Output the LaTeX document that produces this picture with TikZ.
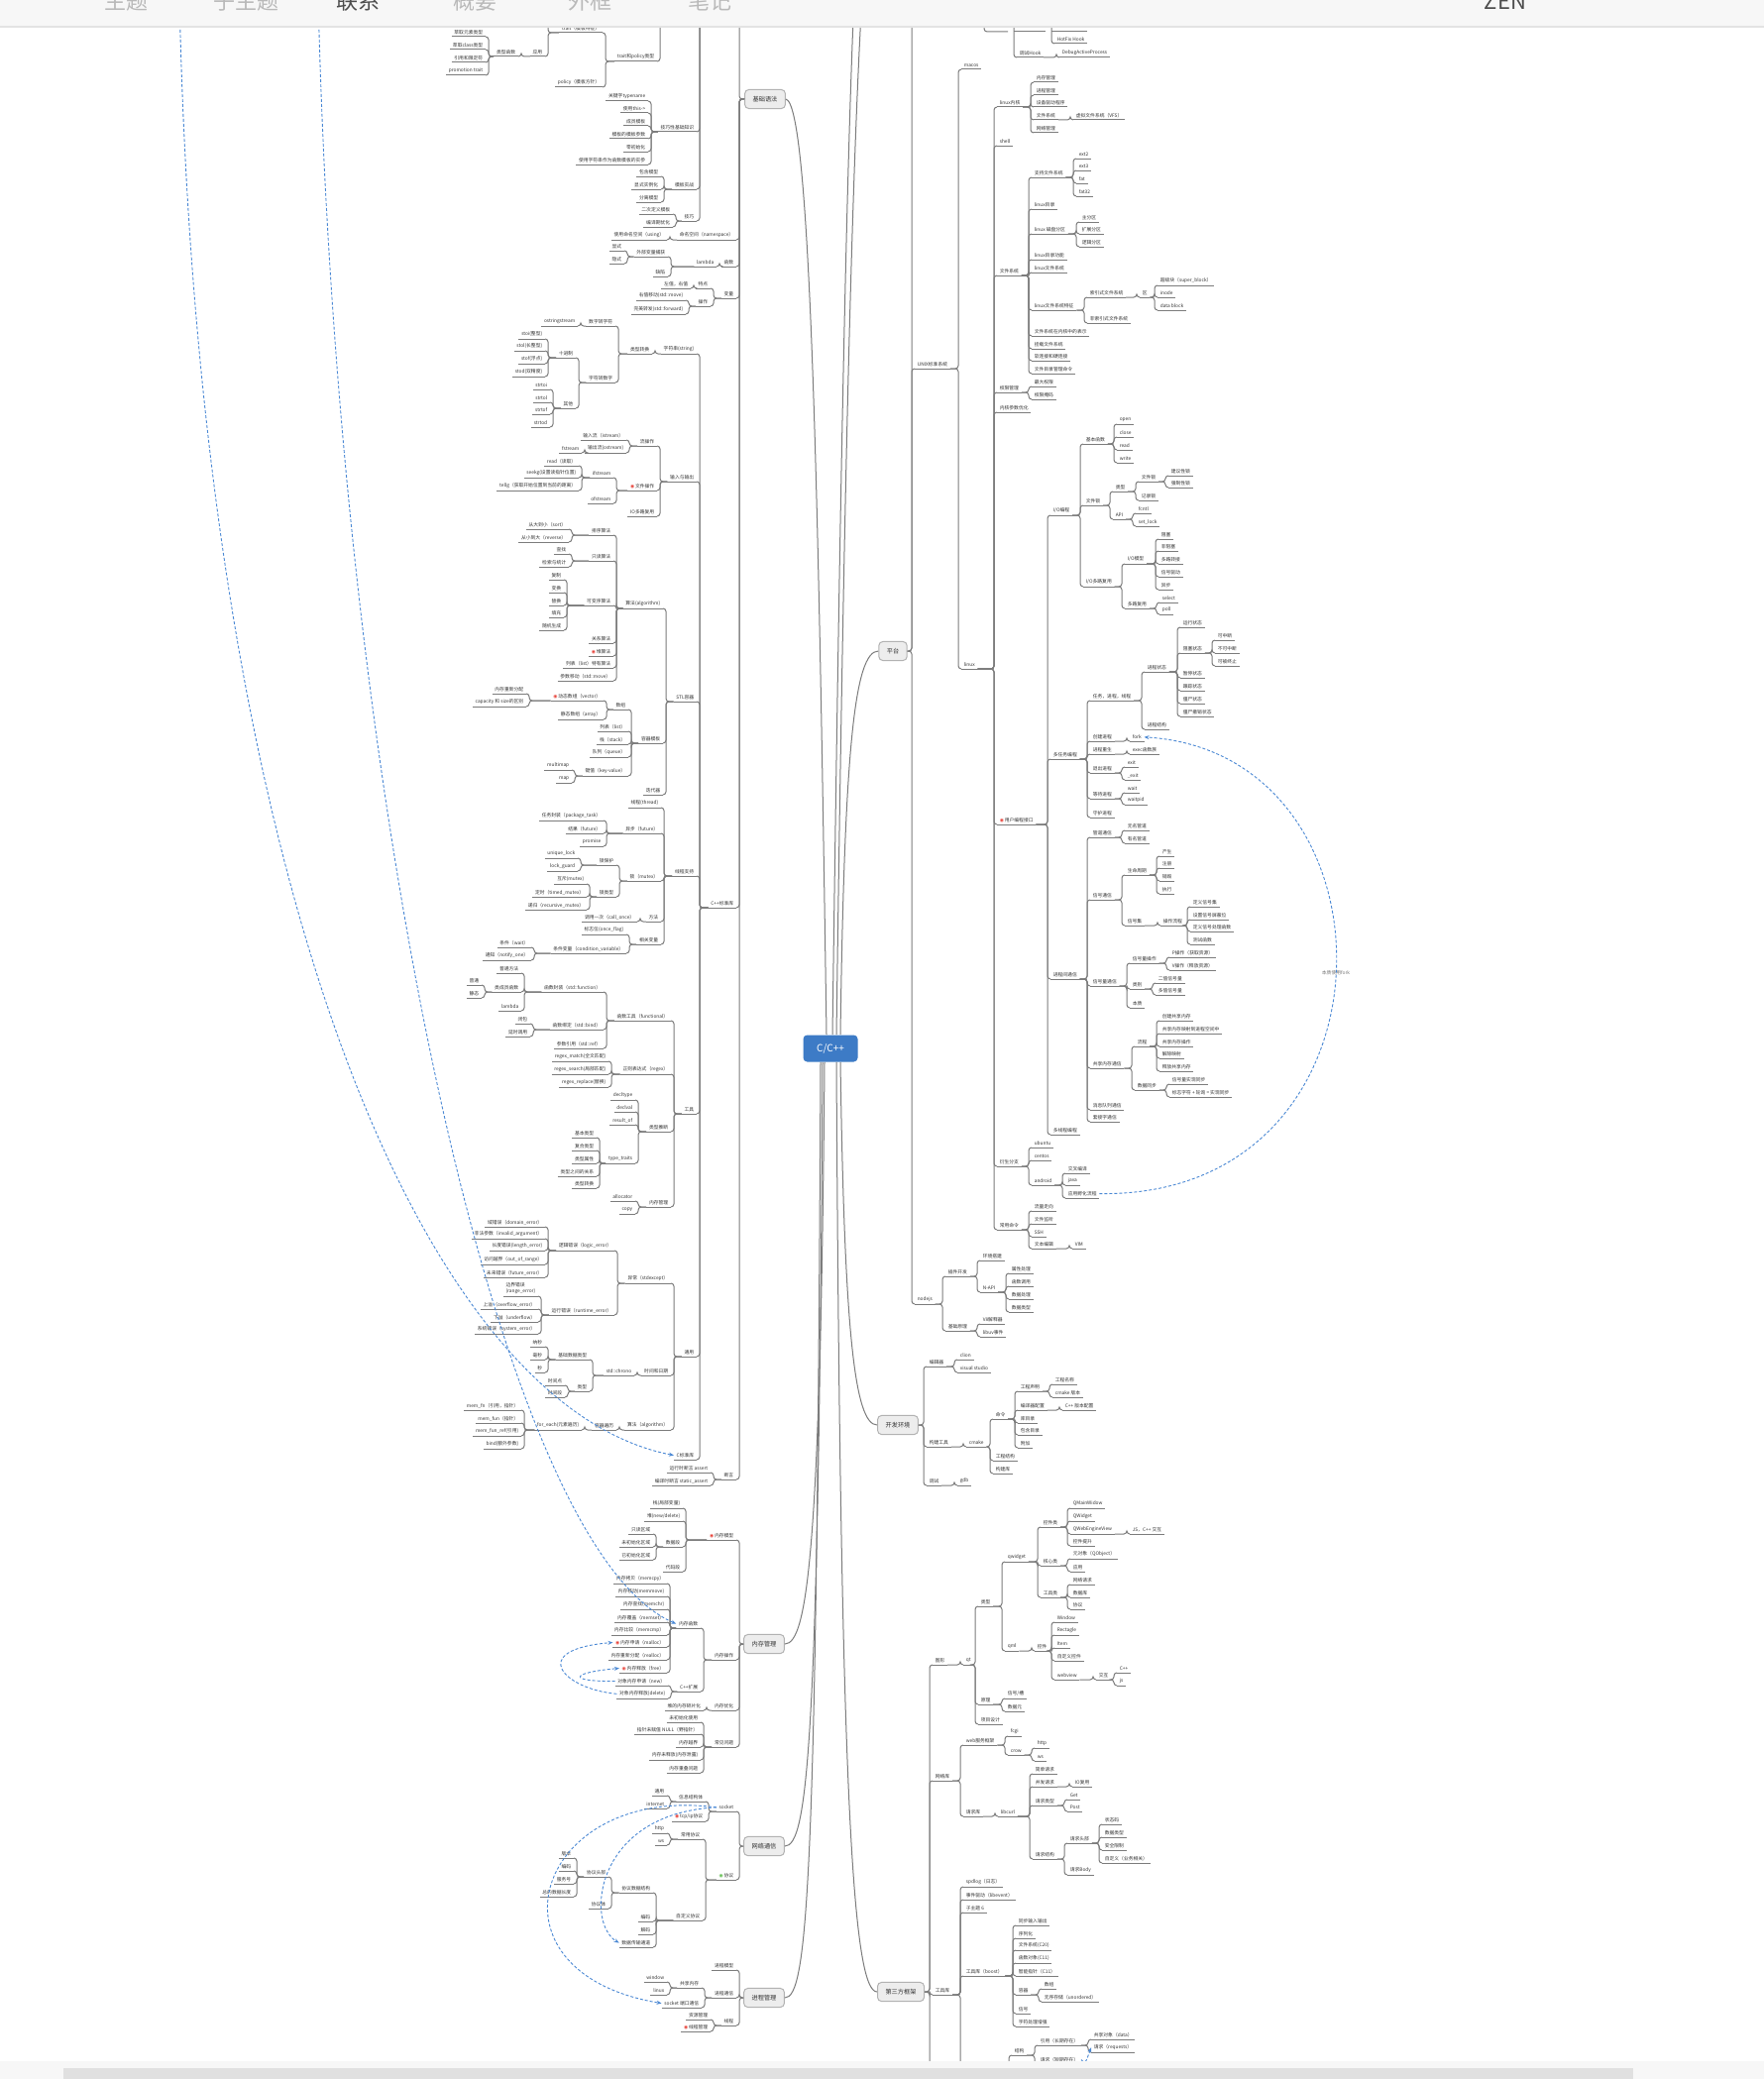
\documentclass[tikz,border=0pt]{standalone}
\usepackage{fontspec}
\setmainfont{Noto Sans CJK SC}
\newfontfamily\symf{DejaVu Sans}
\usepackage{xcolor}
\usetikzlibrary{arrows.meta}
\definecolor{ink}{HTML}{333333}
\definecolor{wire}{HTML}{7C7C7C}
\definecolor{boxbg}{HTML}{EDEDED}
\definecolor{boxbd}{HTML}{B2B2B2}
\definecolor{centre}{HTML}{3D7BC6}
\definecolor{relclr}{HTML}{4A88D4}
\definecolor{prioclr}{HTML}{E8453C}
\definecolor{okclr}{HTML}{5DBB4A}
\definecolor{barbg}{HTML}{F7F7F7}
\definecolor{barln}{HTML}{E3E3E3}
\definecolor{tabtxt}{HTML}{B9B9B9}
\definecolor{tabon}{HTML}{4D4D4D}
\definecolor{scroll}{HTML}{E0E0E0}
\definecolor{soft}{HTML}{777777}
\newcommand{\leaf}{\fontsize{2.4}{2.9}\selectfont}
\newcommand{\brfont}{\fontsize{3.1}{3.6}\selectfont}
\newcommand{\prio}{\textcolor{prioclr}{\symf ◉}\,}
\newcommand{\okk}{\textcolor{okclr}{\symf ◉}\,}
\tikzset{
  link/.style={draw=wire, line width=0.5pt, rounded corners=1.5pt},
  topic/.style={font=\leaf, text=ink, align=left, inner xsep=1.2pt, inner ysep=0.9pt,
    append after command={(\tikzlastnode.south west) edge[link] (\tikzlastnode.south east)}},
  branch/.style={draw=boxbd, fill=boxbg, rounded corners=2pt, font=\brfont, text=ink,
    inner xsep=4pt, minimum height=9.5pt, line width=0.5pt},
  hub/.style={fill=centre, text=white, rounded corners=2pt, font=\fontsize{5}{6}\selectfont,
    minimum width=27.5pt, minimum height=13.5pt},
  xref/.style={draw=relclr, line width=0.45pt, dash pattern=on 1.5pt off 1pt,
    -{Stealth[length=2.5pt, width=2pt]}},
  tab/.style={font=\fontsize{11}{11}\selectfont, text=tabtxt, anchor=base},
}
% children to the left / right of a parent, bar at #2
\newcommand{\lkids}[3]{\foreach \nm/\yy/\lbl in {#3}{%
  \node[topic, anchor=south east] (\nm) at (#2-3,\yy) {\lbl};
  \draw[link] (#1) -| (#2,\yy) -- (\nm.south east);}}
\newcommand{\rkids}[3]{\foreach \nm/\yy/\lbl in {#3}{%
  \node[topic, anchor=south west] (\nm) at (#2+3,\yy) {\lbl};
  \draw[link] (#1) -| (#2,\yy) -- (\nm.south west);}}
% same, parent out of view
\newcommand{\lkidsup}[3]{\foreach \nm/\yy/\lbl in {#3}{%
  \node[topic, anchor=south east] (\nm) at (#2-3,\yy) {\lbl};
  \draw[link] (#1) |- (\nm.south east);}}
\newcommand{\rkidsup}[3]{\foreach \nm/\yy/\lbl in {#3}{%
  \node[topic, anchor=south west] (\nm) at (#2+3,\yy) {\lbl};
  \draw[link] (#1) |- (\nm.south west);}}

\begin{document}
\begin{tikzpicture}[x=0.5pt, y=-0.5pt]
  \useasboundingbox (0,0) rectangle (1780,2098);
  \fill[white] (0,0) rectangle (1780,2098);

  % centre and main branches
  \node[hub] (cc) at (838,1058) {C/C++};
  \node[branch] (jc) at (772,100) {基础语法};
  \node[branch] (mem) at (771,1659) {内存管理};
  \node[branch] (net) at (771,1863) {网络通信};
  \node[branch] (proc) at (771,2016) {进程管理};
  \node[branch] (plat) at (901,657) {平台};
  \node[branch] (dev) at (906,1438) {开发环境};
  \node[branch] (third) at (909,2010) {第三方框架};
  \coordinate (upA) at (862,-5);
  \coordinate (upB) at (870,-5);

  \draw[link] ([xshift=-2pt]cc.north) .. controls (826,500) and (818,105) .. (jc.east);
  \draw[link] ([xshift=1pt]cc.north) .. controls (846,600) and (853,200) .. (upA);
  \draw[link] ([xshift=3pt]cc.north) .. controls (850,600) and (858,200) .. (upB);
  \draw[link] ([xshift=5pt]cc.north) .. controls (852,760) and (862,657) .. (plat.west);
  \draw[link] ([xshift=5pt]cc.south) .. controls (852,1340) and (862,1438) .. (dev.west);
  \draw[link] ([xshift=3pt]cc.south) .. controls (848,1800) and (860,2010) .. (third.west);
  \draw[link] ([xshift=-3pt]cc.south) .. controls (828,1560) and (815,1659) .. (mem.east);
  \draw[link] ([xshift=-4pt]cc.south) .. controls (826,1760) and (815,1863) .. (net.east);
  \draw[link] ([xshift=-5pt]cc.south) .. controls (824,1900) and (815,2016) .. (proc.east);

  % ---- 基础语法 ----
  \draw[link] (jc.west) -| (746,-5);
  \lkids{jc.west}{746}{ns/242/命名空间（namespace）,fn/269/函数,var/301/变量,
    cstd/916/C++标准库,asrt/1493/断言}
  \coordinate (tplA) at (706,-5);
  \coordinate (tplB) at (666,-5);
  \lkidsup{tplA}{706}{tbk/133/技巧性基础知识,tpr/191/模板实战,tsk/223/技巧}
  \lkidsup{tplB}{666}{tp/62/trait和policy类型}
  \lkids{tp.south west}{611}{trt/33/trait（模板特征）,pol/88/policy（模板方针）}
  \draw[link] (trt.south west) -| (553,-5);
  \lkids{trt.south west}{553}{app/57/应用}
  \lkids{app.south west}{526}{tf/57/类型函数}
  \lkids{tf.south west}{493}{ex1/37/萃取元素类型,ex2/50/萃取class类型,rq/63/引用和限定符,
    pt/76/promotion trait}
  \lkids{tbk.south west}{657}{tb1/102/关键字typename,tb2/114/使用this->,tb3/127/成员模板,
    tb4/140/模板的模板参数,tb5/153/零初始化,tb6/166/使用字符串作为函数模板的实参}
  \lkids{tpr.south west}{670}{tr1/178/包含模型,tr2/191/显式实例化,tr3/204/分离模型}
  \lkids{tsk.south west}{682}{ts1/216/二次定义模板,ts2/229/编译期优化}
  \lkids{ns.south west}{676}{nsu/242/使用命名空间（using）}
  \lkids{fn.south west}{726}{lam/269/lambda}
  \lkids{lam.south west}{677}{cap/259/外部变量捕获,dfc/279/缺陷}
  \lkids{cap.south west}{633}{ce/253/显式,ci/266/隐式}
  \lkids{var.south west}{720}{vch/291/特点,vop/309/操作}
  \lkids{vch.south west}{700}{lr/291/左值，右值}
  \lkids{vop.south west}{695}{mv/303/右值移动(std::move),fw/317/完美转发(std::forward)}

  \lkids{cstd.south west}{706}{str/357/字符串(string),io/486/输入与输出,stl/708/STL容器,
    thr/884/线程支持,tool/1124/工具,gen/1369/通用,clib/1473/C标准库}
  \lkids{str.south west}{661}{cvt/357/类型转换}
  \lkids{cvt.south west}{624}{n2s/329/数字转字符,s2n/386/字符转数字}
  \lkids{n2s.south west}{586}{oss/329/ostringstream}
  \lkids{s2n.south west}{584}{dec/361/十进制,oth/412/其他}
  \lkids{dec.south west}{553}{st1/342/stoi(整型),st2/354/stol(长整型),st3/367/stof(浮点),
    st4/380/stod(双精度)}
  \lkids{oth.south west}{558}{sr1/393/strtoi,sr2/406/strtol,sr3/418/strtof,sr4/431/strtod}
  \lkids{io.south west}{666}{iost/450/流操作,iof/495/\prio 文件操作,iomx/521/IO多路复用}
  \lkids{iost.south west}{635}{ist/444/输入流（istream）,ost/457/输出流(ostream)}
  \lkids{ost.south west}{590}{fst/457/fstream}
  \lkids{iof.south west}{622}{ifs/482/ifstream,ofs/508/ofstream}
  \lkids{ifs.south west}{587}{rd/470/read（读取）,skg/482/seekg(设置读指针位置),
    tlg/495/tellg（获取开始位置到当前的距离）}
  \lkids{stl.south west}{672}{alg/614/算法(algorithm),ctp/750/容器模板,itr/802/迭代器}
  \lkids{alg.south west}{622}{srt/540/排序算法,rdo/566/只读算法,mut/611/可变序算法,
    rla/649/关系算法,heap/662/\prio 堆算法,lst/674/列表（list）特有算法,
    pmv/687/参数移动（std::move）}
  \lkids{srt.south west}{577}{s1/534/从大到小（sort）,s2/547/从小到大（reverse）}
  \lkids{rdo.south west}{577}{r1/559/查找,r2/572/检索与统计}
  \lkids{mut.south west}{572}{m1/585/复制,m2/598/变换,m3/611/替换,m4/623/填充,m5/636/随机生成}
  \lkids{ctp.south west}{637}{arr/716/数组,lstc/738/列表（list）,stk/751/栈（stack）,
    que/764/队列（queue）,kv/783/键值（key-value）}
  \lkids{arr.south west}{612}{vec/707/\prio 动态数组（vector）,sarr/726/静态数组（array）}
  \lkids{vec.south west}{534}{va/700/内存重新分配,vb/713/capacity 和 size的区别}
  \lkids{kv.south west}{580}{mm/777/multimap,mp/790/map}
  \lkids{thr.south west}{670}{th/815/线程(thread),fut/841/异步（future）,mtx/889/锁（mutex）,
    mth/930/方法,rv/953/相关变量}
  \lkids{fut.south west}{612}{pk/828/任务封装（package\_task）,rs/841/结果（future）,
    prm/854/promise}
  \lkids{mtx.south west}{625}{lg/873/锁保护,lt/905/锁类型}
  \lkids{lg.south west}{586}{ul/866/unique\_lock,lkg/879/lock\_guard}
  \lkids{lt.south west}{595}{mx1/892/互斥(mutex),mx2/905/定时（timed\_mutex）,
    mx3/918/递归（recursive\_mutex）}
  \lkids{mth.south west}{646}{co/930/调用一次（call\_once）}
  \lkids{rv.south west}{635}{of/943/标志位(once\_flag),cv/962/条件变量（condition\_variable）}
  \lkids{cv.south west}{539}{cw/956/条件（wait）,cn/969/通知（notify\_one）}
  \lkids{tool.south west}{680}{fnt/1030/函数工具（functional）,rgx/1084/正则表达式（regex）,
    tinf/1142/类型推断,tmem/1218/内存管理}
  \lkids{fnt.south west}{612}{ff/1001/函数封装（std::function）,fb/1039/函数绑定（std::bind）,
    fr/1058/参数引用（std::ref）}
  \lkids{ff.south west}{529}{f1/982/普通方法,f2/1001/类成员函数,f3/1020/lambda}
  \lkids{f2.south west}{489}{g1/994/普通,g2/1007/静态}
  \lkids{fb.south west}{538}{b1/1033/闭包,b2/1046/延时调用}
  \lkids{rgx.south west}{617}{rx1/1071/regex\_match(全文匹配),rx2/1084/regex\_search(局部匹配),
    rx3/1097/regex\_replace(替换)}
  \lkids{tinf.south west}{644}{dt/1110/decltype,dv/1122/declval,ro/1135/result\_of,
    tt/1174/type\_traits}
  \lkids{tt.south west}{605}{tt1/1148/基本类型,tt2/1161/复合类型,tt3/1174/类型属性,
    tt4/1187/类型之间的关系,tt5/1199/类型转换}
  \lkids{tmem.south west}{644}{alc/1212/allocator,cpy/1225/copy}
  \lkids{gen.south west}{680}{exc/1295/异常（stdexcept）,dtm/1388/时间和日期,
    galg/1443/算法（algorithm）}
  \lkids{exc.south west}{623}{lge/1262/逻辑错误（logic\_error）,rte/1327/运行错误（runtime\_error）}
  \lkids{lge.south west}{553}{le1/1238/域错误（domain\_error）,le2/1250/非法参数（invalid\_argument）,
    le3/1262/长度错误(length\_error),le4/1276/访问越界（out\_of\_range）,
    le5/1289/未来错误（future\_error）}
  \lkids{rte.south west}{546}{re1/1308/{边界错误\\(range\_error)},re2/1321/上溢（overflow\_error）,
    re3/1334/下溢（underflow）,re4/1346/系统错误（system\_error）}
  \lkids{dtm.south west}{643}{chr/1388/std::chrono}
  \lkids{chr.south west}{598}{bdt/1372/基础数据类型,ctyp/1404/类型}
  \lkids{bdt.south west}{553}{ns1/1359/纳秒,ns2/1372/毫秒,ns3/1385/秒}
  \lkids{ctyp.south west}{573}{tp1/1398/时间点,tp2/1410/时间段}
  \lkids{galg.south west}{625}{cti/1443/容器遍历}
  \lkids{cti.south west}{590}{fe/1443/for\_each(元素遍历)}
  \lkids{fe.south west}{529}{mf1/1423/mem\_fn（引用，指针）,mf2/1436/mem\_fun（指针）,
    mf3/1449/mem\_fun\_ref(引用),mf4/1462/bind(额外参数)}
  \lkids{asrt.south west}{720}{as1/1486/运行时断言 assert,as2/1499/编译时断言 static\_assert}

  % ---- 内存管理 ----
  \lkids{mem.west}{746}{mmod/1554/\prio 内存模型,mop/1675/内存操作,mopt/1726/内存优化,
    mfaq/1763/常见问题}
  \lkids{mmod.south west}{692}{stkm/1522/栈(局部变量),heapm/1535/{堆(new/delete)},
    dseg/1561/数据段,cseg/1586/代码段}
  \lkids{dseg.south west}{662}{d1/1548/只读区域,d2/1561/未初始化区域,d3/1574/已初始化区域}
  \lkids{mop.south west}{710}{mfun/1643/内存函数,cext/1707/C++扩展}
  \lkids{mfun.south west}{676}{mc1/1598/内存拷贝（memcpy）,mc2/1611/内存移动(memmove),
    mc3/1624/内存查找(memchr),mc4/1637/内存覆盖（memset）,mc5/1650/内存比较（memcmp）,
    mc6/1662/\prio 内存申请（malloc）,mc7/1675/内存重新分配（realloc）,
    mc8/1688/\prio 内存释放（free）}
  \lkids{cext.south west}{677}{nw/1701/对象内存申请（new）,dl/1714/对象内存释放(delete)}
  \lkids{mopt.south west}{713}{frag/1726/堆的内存碎片化}
  \lkids{mfaq.south west}{710}{q1/1738/未初始化使用,q2/1750/指针未赋值 NULL（野指针）,
    q3/1763/内存越界,q4/1776/内存未释放(内存泄露),q5/1789/内存重叠问题}

  % ---- 网络通信 ----
  \lkids{net.west}{746}{sock/1828/socket,prot/1897/\okk 协议}
  \lkids{sock.south west}{715}{info/1818/信息结构体,tcp/1838/{\prio tcp/ip协议}}
  \lkids{info.south west}{676}{gen2/1812/通用,inet/1825/internet}
  \lkids{prot.south west}{712}{cprot/1856/常用协议,uprot/1938/自定义协议}
  \lkids{cprot.south west}{676}{htp/1850/http,wss/1862/ws}
  \lkids{uprot.south west}{662}{pds/1910/协议数据结构,enc/1939/编码,dec2/1952/解码,
    chan/1965/数据传输通道}
  \lkids{pds.south west}{617}{phd/1894/协议头部,pbd/1926/协议体}
  \lkids{phd.south west}{582}{ph1/1875/版本,ph2/1888/编码,ph3/1901/服务号,ph4/1914/总的数据长度}

  % ---- 进程管理 ----
  \lkids{proc.west}{746}{pmod/1988/进程模型,pcom/2016/进程通信,pthr/2044/线程}
  \lkids{pcom.south west}{711}{shm/2006/共享内存,skp/2026/socket 端口通信}
  \lkids{shm.south west}{676}{win/2000/window,lnx/2013/linux}
  \lkids{pthr.south west}{720}{res/2038/资源管理,tmg/2050/\prio 线程管理}

  % ---- 平台 ----
  \draw[link] (plat.east) -| (920,-5);
  \rkids{plat.east}{920}{unix/372/UNIX标准系统,njs/1316/nodejs}
  \coordinate (winA) at (993,-5);
  \coordinate (hk1) at (1023,-5);
  \coordinate (hk2) at (1061,-5);
  \draw[link] (winA) |- (1017,32);
  \draw[link] (1023,32) -- (1055,32);
  \draw[link] (1061,32) -- (1097,32);
  \rkidsup{hk1}{1023}{dbg/58/调试Hook}
  \rkidsup{hk2}{1061}{hot/44/HotFix Hook}
  \rkids{dbg.south east}{1066}{dap/58/DebugActiveProcess}
  \rkids{unix.south east}{967}{mac/70/macos,linux/675/linux}
  \rkids{linux.south east}{1003}{lk/108/linux内核,sh/147/shell,fs/278/文件系统,perm/396/权限管理,
    kopt/416/内核参数优化,upi/832/\prio 用户编程接口,der/1177/衍生分支,cmd/1241/常用命令}
  \rkids{lk.south east}{1040}{k1/83/内存管理,k2/96/进程管理,k3/108/设备驱动程序,k4/121/文件系统,
    k5/134/网络管理}
  \rkids{k4.south east}{1080}{vfs/121/虚拟文件系统（VFS）}
  \rkids{fs.south east}{1038}{fs1/179/支持文件系统,fs2/211/linux目录,fs3/236/linux 磁盘分区,
    fs4/262/linux目录功能,fs5/275/linux文件系统,fs6/313/linux文件系统特征,
    fs7/339/文件系统在内核中的表示,fs8/352/挂载文件系统,fs9/364/软连接和硬连接,
    fs10/377/文件目录管理命令}
  \rkids{fs1.south east}{1083}{e2/160/ext2,e3/172/ext3,fat/185/fat,f32/198/fat32}
  \rkids{fs3.south east}{1086}{pa1/224/主分区,pa2/236/扩展分区,pa3/249/逻辑分区}
  \rkids{fs6.south east}{1094}{idx/300/索引式文件系统,nidx/326/非索引式文件系统}
  \rkids{idx.south east}{1147}{zone/300/区}
  \rkids{zone.south east}{1165}{sb/288/超级块（super\_block）,ind/300/inode,dbk/313/data block}
  \rkids{perm.south east}{1038}{pm1/390/最大权限,pm2/403/权限掩码}
  \rkids{upi.south east}{1057}{iop/520/{I/O编程},mtk/766/多任务编程,ipc/988/进程间通信,
    mtp/1145/多线程编程}
  \rkids{iop.south east}{1090}{bfn/448/基本函数,flk/510/文件锁,iomp/592/{I/O多路复用}}
  \rkids{bfn.south east}{1124}{op/428/open,cl/441/close,rdd/454/read,wr/467/write}
  \rkids{flk.south east}{1120}{lkt/496/类型,api/524/API}
  \rkids{lkt.south east}{1146}{flk2/486/文件锁,rlk/505/记录锁}
  \rkids{flk2.south east}{1176}{al1/480/建议性锁,al2/492/强制性锁}
  \rkids{api.south east}{1143}{fcn/518/fcntl,slk/531/set\_lock}
  \rkids{iomp.south east}{1132}{iom/569/{I/O模型},mux/614/多路复用}
  \rkids{iom.south east}{1166}{io1/544/阻塞,io2/556/非阻塞,io3/569/多路转接,io4/582/信号驱动,
    io5/595/异步}
  \rkids{mux.south east}{1167}{sel/608/select,pol2/620/poll}
  \rkids{mtk.south east}{1097}{tpt/707/任务，进程，线程,cp/748/创建进程,rp/761/进程重生,
    ep/780/退出进程,wp/806/等待进程,dp/825/守护进程}
  \rkids{tpt.south east}{1152}{pst/678/进程状态,pstr/736/进程结构}
  \rkids{pst.south east}{1188}{ps1/633/运行状态,ps2/659/阻塞状态,ps3/684/暂停状态,
    ps4/697/跟踪状态,ps5/710/僵尸状态,ps6/723/僵尸撤销状态}
  \rkids{ps2.south east}{1223}{b1x/646/可中断,b2x/659/不可中断,b3x/672/可被终止}
  \rkids{cp.south east}{1137}{fork/748/fork}
  \rkids{rp.south east}{1137}{exe/761/exec函数族}
  \rkids{ep.south east}{1132}{ex1x/774/exit,ex2x/787/\_exit}
  \rkids{wp.south east}{1132}{wt1/800/wait,wt2/812/waitpid}
  \rkids{ipc.south east}{1097}{pipe/845/管道通信,sig/908/信号通信,sem/995/信号量通信,
    shmc/1078/共享内存通信,mq/1120/消息队列通信,skc/1132/套接字通信}
  \rkids{pipe.south east}{1132}{pp1/838/无名管道,pp2/851/有名管道}
  \rkids{sig.south east}{1132}{life/883/生命周期,sset/934/信号集}
  \rkids{life.south east}{1167}{lf1/864/产生,lf2/876/注册,lf3/889/销毁,lf4/902/执行}
  \rkids{sset.south east}{1168}{sflow/934/操作流程}
  \rkids{sflow.south east}{1198}{sf1/915/定义信号集,sf2/928/设置信号屏蔽位,
    sf3/940/定义信号处理函数,sf4/953/测试函数}
  \rkids{sem.south east}{1137}{sop/972/信号量操作,scat/998/类别,sess/1017/本质}
  \rkids{sop.south east}{1177}{sp1/966/P操作（获取资源）,sp2/979/V操作（释放资源）}
  \rkids{scat.south east}{1163}{sc1/992/二值信号量,sc2/1004/多值信号量}
  \rkids{shmc.south east}{1142}{sflw/1056/流程,ssyn/1100/数据同步}
  \rkids{sflw.south east}{1167}{sh1/1030/创建共享内存,sh2/1043/共享内存映射到进程空间中,
    sh3/1056/共享内存操作,sh4/1068/解除映射,sh5/1081/释放共享内存}
  \rkids{ssyn.south east}{1177}{sy1/1094/信号量实现同步,sy2/1107/标志字符 + 轮询 = 实现同步}
  \rkids{der.south east}{1038}{ubu/1158/ubuntu,cent/1171/centos,andr/1196/android}
  \rkids{andr.south east}{1072}{an1/1184/交叉编译,an2/1196/java,an3/1209/应用孵化流程}
  \rkids{cmd.south east}{1038}{cm1/1222/流量走向,cm2/1235/文件监听,cm3/1248/SSH,cm4/1260/文本编辑}
  \rkids{cm4.south east}{1079}{vim/1260/VIM}
  \rkids{njs.south east}{951}{plg/1288/插件开发,bas/1343/基础原理}
  \rkids{plg.south east}{986}{env/1272/环境搭建,napi/1304/N-API}
  \rkids{napi.south east}{1015}{na1/1285/属性处理,na2/1298/函数调用,na3/1311/数据处理,
    na4/1324/数据类型}
  \rkids{bas.south east}{986}{v8/1336/V8解释器,uv/1349/libuv事件}

  % ---- 开发环境 ----
  \rkids{dev.east}{932}{edt/1379/编辑器,bld/1460/构建工具,dbgt/1499/调试}
  \rkids{edt.south east}{963}{cln/1372/clion,vs/1385/visual studio}
  \rkids{bld.south east}{972}{cmk/1460/cmake}
  \rkids{cmk.south east}{999}{ccmd/1432/命令,cstr/1474/工程结构,clib2/1487/构建库}
  \rkids{ccmd.south east}{1024}{pdecl/1404/工程声明,ccfg/1423/编译器配置,cld/1436/库目录,
    cinc/1448/包含目录,cadd/1461/附加}
  \rkids{pdecl.south east}{1059}{pn/1397/工程名称,cv2/1410/cmake 版本}
  \rkids{ccfg.south east}{1069}{cver/1423/C++ 版本配置}
  \rkids{dbgt.south east}{963}{gdb/1499/gdb}

  % ---- 第三方框架 ----
  \draw[link] (third.east) -| (938,2110);
  \rkids{third.east}{938}{gfx/1680/图形,nlib/1797/网络库,tlib/2013/工具库}
  \rkids{gfx.south east}{969}{qt/1680/qt}
  \rkids{qt.south east}{984}{qtyp/1621/类型,qpr/1720/原理,qprj/1740/项目设计}
  \rkids{qtyp.south east}{1011}{qw/1576/qwidget,qml/1666/qml}
  \rkids{qw.south east}{1047}{ctl/1541/控件类,core/1580/核心类,util/1612/工具类}
  \rkids{ctl.south east}{1077}{qmw/1522/QMainWidow,qwg/1535/QWidget,qwe/1548/QWebEngineView,
    qpro/1560/控件提升}
  \rkids{qwe.south east}{1137}{jsx/1548/JS，C++ 交互}
  \rkids{core.south east}{1077}{qob/1573/元对象（QObject）,qapp/1586/应用}
  \rkids{util.south east}{1077}{qnr/1599/网络请求,qdb/1612/数据库,qpt/1624/协议}
  \rkids{qml.south east}{1041}{qctl/1666/控件}
  \rkids{qctl.south east}{1061}{qwin/1637/Window,qrec/1650/Rectagle,qitm/1663/Item,
    qcus/1676/自定义控件,qwv/1695/webview}
  \rkids{qwv.south east}{1103}{qint/1695/交互}
  \rkids{qint.south east}{1124}{qcpp/1688/C++,qjs/1701/js}
  \rkids{qpr.south east}{1011}{sigs/1714/{信号/槽},meta/1727/数据元}
  \rkids{nlib.south east}{969}{wsf/1761/web服务框架,rql/1833/请求库}
  \rkids{wsf.south east}{1014}{fcgi/1752/fcgi,crow/1771/crow}
  \rkids{crow.south east}{1041}{ch1/1764/http,ch2/1777/ws}
  \rkids{rql.south east}{1004}{curl/1833/libcurl}
  \rkids{curl.south east}{1039}{cq1/1790/简单请求,cq2/1803/并发请求,cq3/1822/请求类型,
    cq4/1876/请求结构}
  \rkids{cq2.south east}{1079}{iox/1803/IO复用}
  \rkids{cq3.south east}{1074}{get/1816/Get,post/1828/Post}
  \rkids{cq4.south east}{1074}{rhd/1860/请求头部,rbd/1892/请求Body}
  \rkids{rhd.south east}{1109}{rh1/1841/状态码,rh2/1854/数据类型,rh3/1867/安全限制,
    rh4/1880/自定义（业务相关）}
  \draw[link] (tlib.south east) -| (969,2110);
  \rkids{tlib.south east}{969}{spd/1904/spdlog（日志）,lev/1917/事件驱动（libevent）,
    sub6/1930/子主题 6,boost/1994/工具库（boost）}
  \rkids{boost.south east}{1022}{bo1/1943/同步输入输出,bo2/1956/序列化,bo3/1968/文件系统(C20),
    bo4/1981/函数对象(C11),bo5/1994/智能指针（C11）,bo6/2013/容器,bo7/2032/信号,
    bo8/2045/字符处理增强}
  \rkids{bo6.south east}{1048}{bc1/2007/数组,bc2/2020/无序存储（unordered）}
  \coordinate (lowA) at (1018,2110);
  \rkidsup{lowA}{1018}{stru/2074/结构}
  \rkids{stru.south east}{1044}{qref/2064/引用（长期存在）,qreq/2083/请求（短期存在）}
  \rkids{qref.south east}{1098}{sobj/2058/共享对象（data）,sreq/2071/请求（requests）}

  % ---- relations ----
  \coordinate (relA) at (181,-5);
  \coordinate (relB) at (321,-5);
  \draw[xref] (relA) .. controls (200,900) and (430,1420) .. (clib.west);
  \draw[xref] (relB) .. controls (340,800) and (500,1560) .. (mfun.west);
  \draw[xref] (dl.west) .. controls (570,1705) and (530,1665) .. (mc6.west);
  \draw[xref] (nw.west) .. controls (572,1697) and (575,1688) .. (mc8.west);
  \draw[xref] (sock.west) .. controls (540,1800) and (480,1990) .. (skp.west);
  \draw[xref] (sock.west) .. controls (600,1830) and (590,1940) .. (chan.west);
  \draw[xref] (an3.east) .. controls (1420,1209) and (1420,760) .. (fork.east)
    node[midway, font=\leaf, text=soft] {本质使用fork};
  \draw[xref] (qreq.east) .. controls (1095,2083) .. (sreq.west);

  % ---- window chrome ----
  \fill[barbg] (0,-10) rectangle (1780,26);
  \draw[barln, line width=1.2pt] (0,27) -- (1780,27);
  \node[tab] (t1) at (127,10) {主题};
  \node[tab] (t2) at (248,10) {子主题};
  \node[tab, text=tabon] (t3) at (361,10) {联系};
  \node[tab] (t4) at (479,10) {概要};
  \node[tab] (t5) at (595,10) {外框};
  \node[tab] (t6) at (716,10) {笔记};
  \node[tab, text=tabon] (t7) at (1519,10) {ZEN};
  \fill[barbg] (0,2080) rectangle (1780,2110);
  \fill[scroll] (64,2087) rectangle (1648,2110);
\end{tikzpicture}
\end{document}
